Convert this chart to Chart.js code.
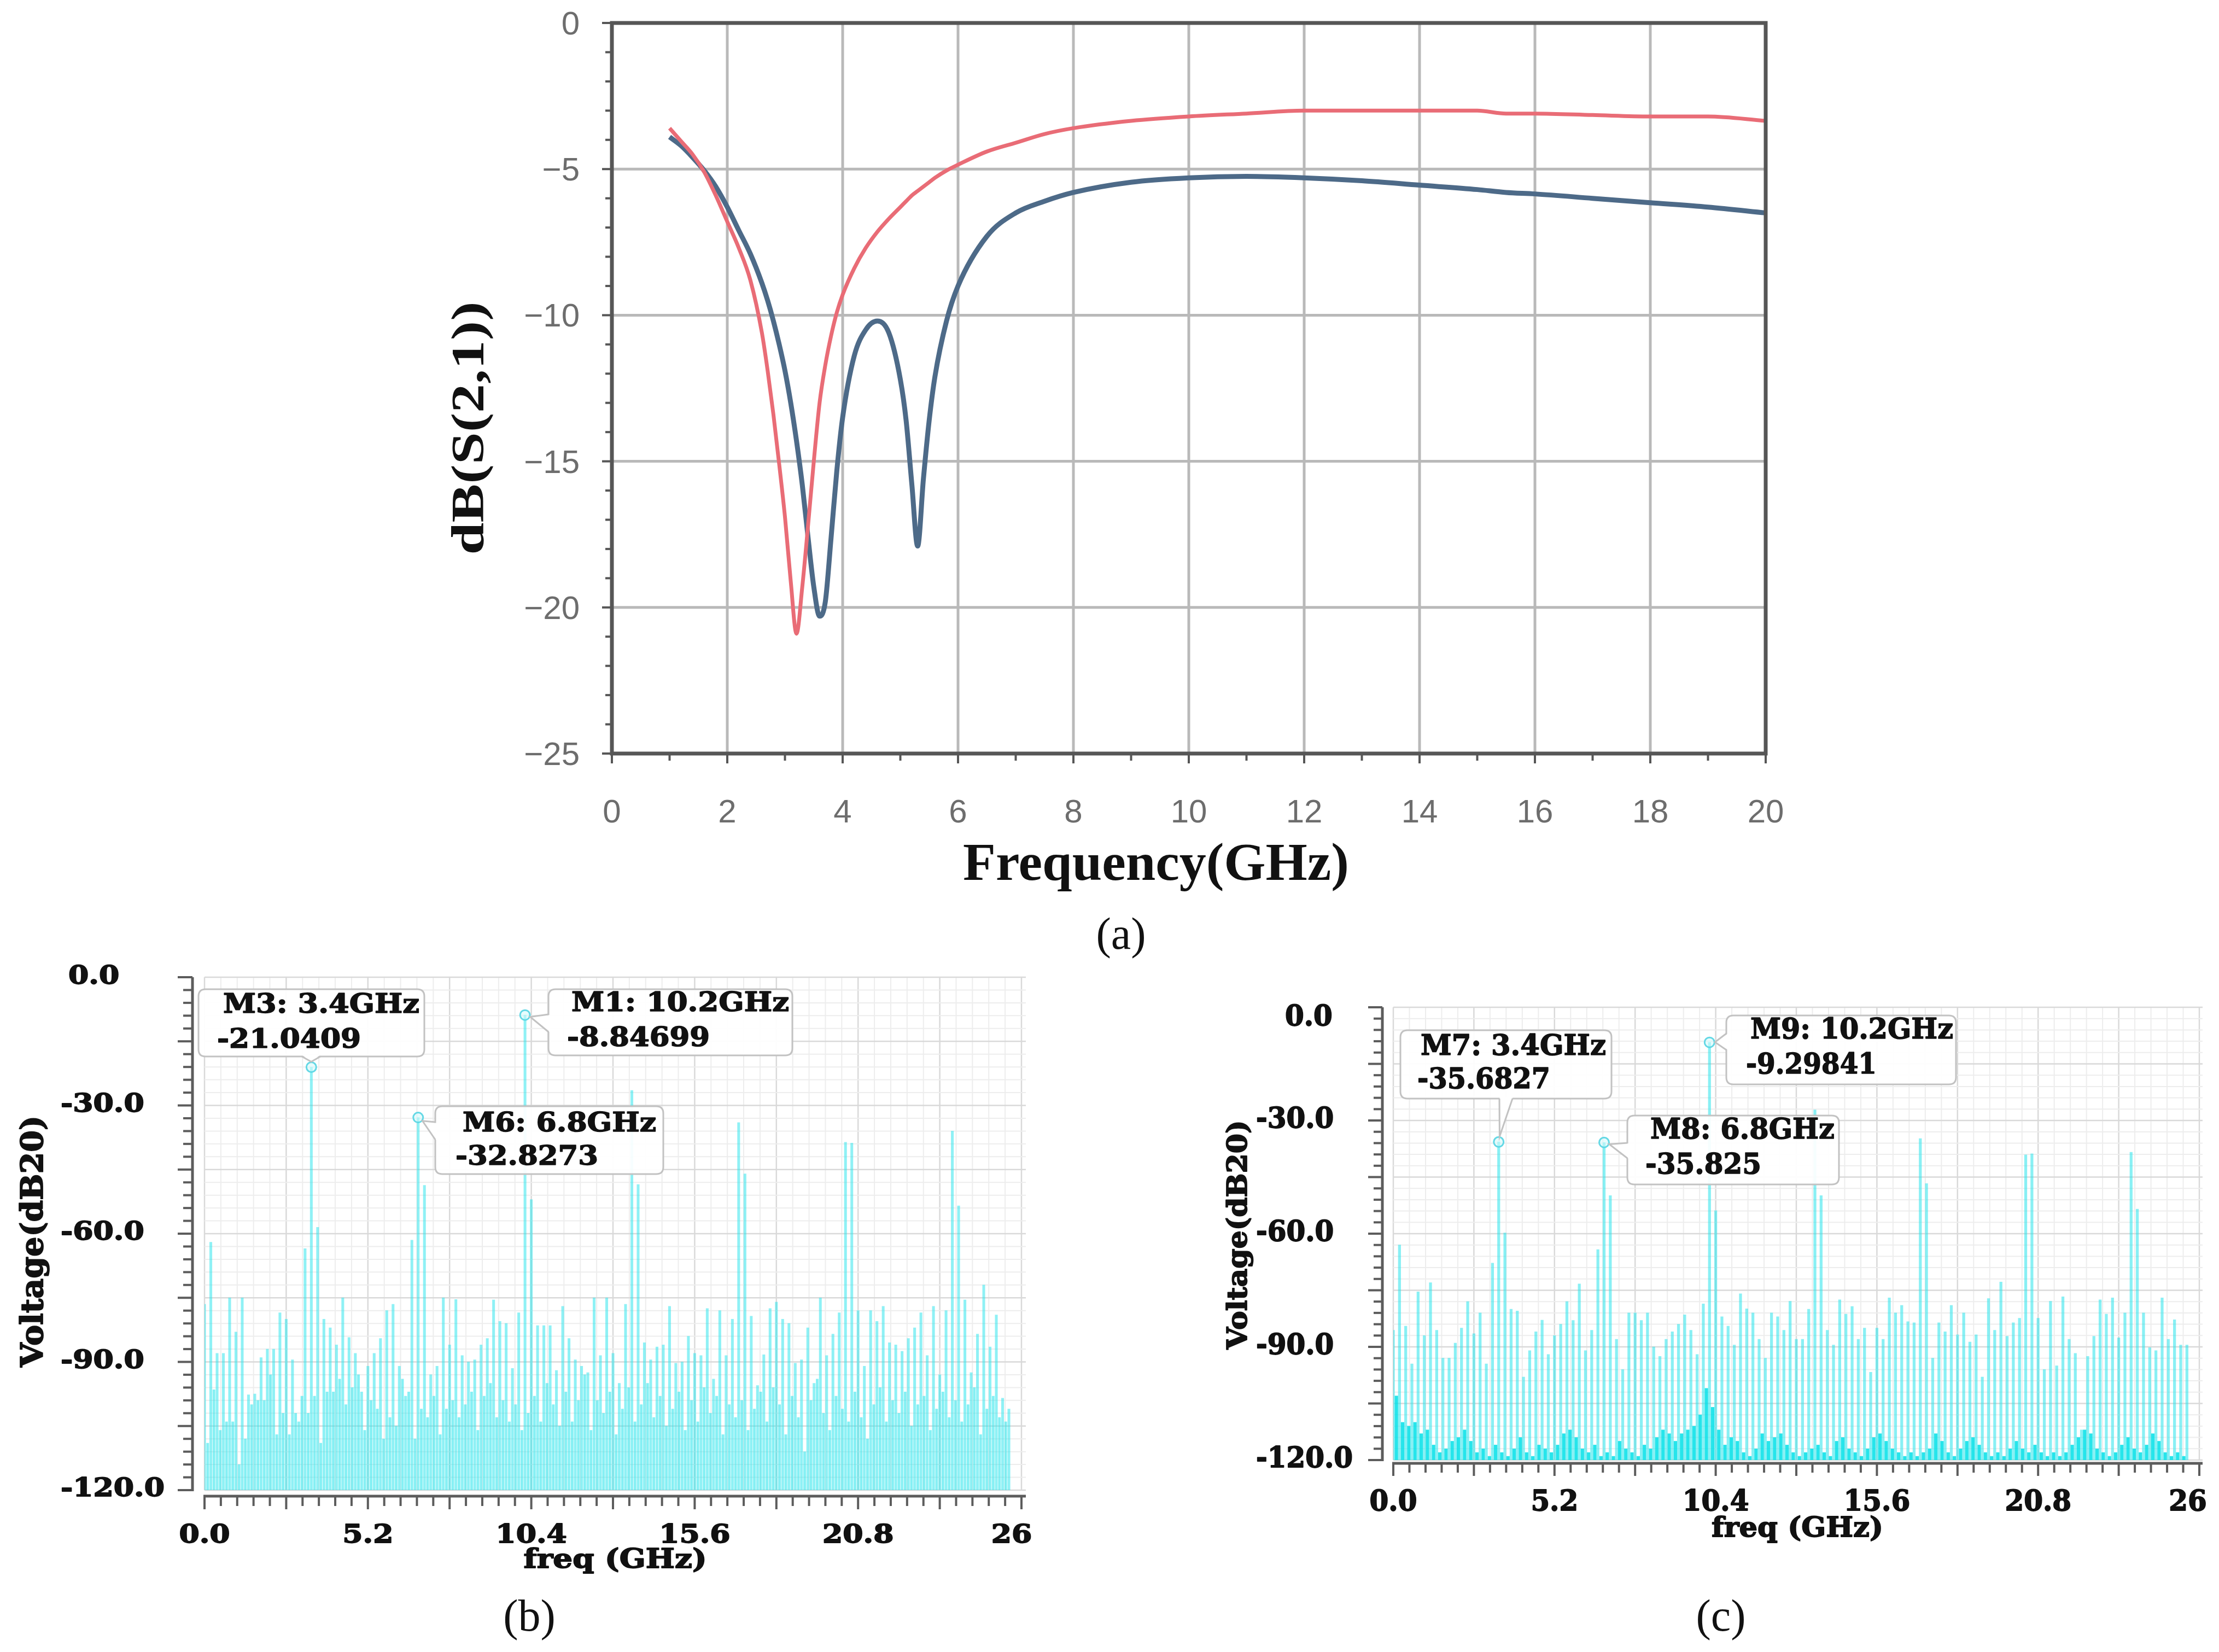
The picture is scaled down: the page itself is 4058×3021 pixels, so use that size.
<!DOCTYPE html>
<html>
<head>
<meta charset="utf-8">
<title>S21 response and output spectra</title>
<script src="https://cdn.jsdelivr.net/npm/chart.js@4.4.1/dist/chart.umd.min.js"></script>
<style>
html,body{margin:0;padding:0;background:#ffffff;}
body{position:relative;width:4058px;height:3021px;overflow:hidden;}
canvas{position:absolute;display:block;}
.pl{position:absolute;font-family:"Liberation Serif","Times New Roman",serif;font-size:82px;line-height:1;color:#111;transform:translate(-50%,-50%);white-space:nowrap;}
</style>
</head>
<body>
<canvas id="ca" width="2700" height="1760" style="left:700px;top:0px"></canvas>
<canvas id="cb" width="2000" height="1321" style="left:0px;top:1700px"></canvas>
<canvas id="cc" width="1908" height="1321" style="left:2150px;top:1700px"></canvas>
<div class="pl" style="left:2050px;top:1708px">(a)</div>
<div class="pl" style="left:968px;top:2955px">(b)</div>
<div class="pl" style="left:3147px;top:2955px">(c)</div>
<script>
// ===================== DATA =====================
// (a) dB(S(2,1)) versus frequency (GHz)
const freqA = [1.0,1.2,1.4,1.6,1.8,2.0,2.2,2.4,2.6,2.7,2.8,2.9,3.0,3.1,3.2,3.3,3.4,3.5,3.6,3.7,3.8,3.9,4.0,4.2,4.4,4.6,4.8,5.0,5.1,5.2,5.3,5.4,5.5,5.6,5.8,6.0,6.5,7.0,7.5,8.0,9.0,10,11,12,13,14,15,15.5,16,17,18,19,20];
const s21Red = [-3.6,-4.05,-4.5,-5.1,-5.9,-6.8,-7.7,-8.8,-10.6,-11.9,-13.4,-15.1,-16.9,-19.1,-20.9,-19.3,-17.2,-15.0,-13.0,-11.7,-10.7,-9.9,-9.3,-8.4,-7.7,-7.15,-6.7,-6.3,-6.1,-5.9,-5.75,-5.6,-5.45,-5.3,-5.05,-4.85,-4.4,-4.1,-3.8,-3.6,-3.35,-3.2,-3.1,-3.0,-3.0,-3.0,-3.0,-3.1,-3.1,-3.15,-3.2,-3.2,-3.35];
const s21Blue = [-3.9,-4.2,-4.6,-5.05,-5.6,-6.3,-7.1,-7.9,-8.9,-9.5,-10.2,-11.0,-11.9,-13.0,-14.3,-15.8,-17.6,-19.3,-20.3,-19.8,-17.6,-15.3,-13.5,-11.4,-10.5,-10.2,-10.6,-12.2,-13.6,-15.8,-17.9,-15.6,-13.6,-12.1,-10.2,-9.0,-7.3,-6.5,-6.1,-5.8,-5.45,-5.3,-5.25,-5.3,-5.4,-5.55,-5.7,-5.8,-5.85,-6.0,-6.15,-6.3,-6.5];
const xTicksA = [0,2,4,6,8,10,12,14,16,18,20];
const yTicksA = [0,-5,-10,-15,-20,-25];

// (b),(c) spectrum lines: frequencies (GHz)
const freqMain = [0,0.2,0.4,0.6,0.8,1,1.2,1.4,1.6,1.8,2,2.2,2.4,2.6,2.8,3,3.2,3.4,3.6,3.8,4,4.2,4.4,4.6,4.8,5,5.2,5.4,5.6,5.8,6,6.2,6.4,6.6,6.8,7,7.2,7.4,7.6,7.8,8,8.2,8.4,8.6,8.8,9,9.2,9.4,9.6,9.8,10,10.2,10.4,10.6,10.8,11,11.2,11.4,11.6,11.8,12,12.2,12.4,12.6,12.8,13,13.2,13.4,13.6,13.8,14,14.2,14.4,14.6,14.8,15,15.2,15.4,15.6,15.8,16,16.2,16.4,16.6,16.8,17,17.2,17.4,17.6,17.8,18,18.2,18.4,18.6,18.8,19,19.2,19.4,19.6,19.8,20,20.2,20.4,20.6,20.8,21,21.2,21.4,21.6,21.8,22,22.2,22.4,22.6,22.8,23,23.2,23.4,23.6,23.8,24,24.2,24.4,24.6,24.8,25,25.2,25.4,25.6];
const freqOdd = [0.1,0.3,0.5,0.7,0.9,1.1,1.3,1.5,1.7,1.9,2.1,2.3,2.5,2.7,2.9,3.1,3.3,3.5,3.7,3.9,4.1,4.3,4.5,4.7,4.9,5.1,5.3,5.5,5.7,5.9,6.1,6.3,6.5,6.7,6.9,7.1,7.3,7.5,7.7,7.9,8.1,8.3,8.5,8.7,8.9,9.1,9.3,9.5,9.7,9.9,10.1,10.3,10.5,10.7,10.9,11.1,11.3,11.5,11.7,11.9,12.1,12.3,12.5,12.7,12.9,13.1,13.3,13.5,13.7,13.9,14.1,14.3,14.5,14.7,14.9,15.1,15.3,15.5,15.7,15.9,16.1,16.3,16.5,16.7,16.9,17.1,17.3,17.5,17.7,17.9,18.1,18.3,18.5,18.7,18.9,19.1,19.3,19.5,19.7,19.9,20.1,20.3,20.5,20.7,20.9,21.1,21.3,21.5,21.7,21.9,22.1,22.3,22.5,22.7,22.9,23.1,23.3,23.5,23.7,23.9,24.1,24.3,24.5,24.7,24.9,25.1,25.3,25.5];

// (b) Voltage (dB20)
const voltB = [-76.5,-62,-88,-88,-75,-83,-75,-97.7,-97.5,-89,-87,-87,-78.5,-80,-89.5,-104,-63.5,-21.04,-58.5,-80,-82,-86,-75,-84.3,-88,-97,-91,-88,-84.5,-78,-76.5,-91,-98,-61.5,-32.83,-48.7,-93,-91,-75,-86,-75.4,-88.5,-90,-89.5,-86,-84.5,-75.5,-80.5,-81,-91.5,-78.5,-8.85,-52,-81.5,-81.5,-81.5,-92,-77,-84.5,-89.5,-91,-92.5,-75,-88.5,-75,-88,-95,-76.5,-26.5,-48.5,-85.5,-89.5,-86.5,-86,-77,-90.3,-90,-84,-88,-88.5,-77.5,-94,-78,-88.5,-80,-34,-46,-79.3,-95.5,-88.3,-77.5,-76,-80,-81,-90.3,-89.5,-82,-95,-75,-88.5,-83.5,-78.5,-38.6,-38.8,-78,-91,-78,-80.5,-77,-85.5,-86,-87.5,-84.5,-82,-78.5,-88.5,-77,-93,-78,-36,-53.5,-75.5,-92.5,-83.5,-72,-86.5,-79,-98.5,-101];
const voltBLow = [-109,-96.5,-106,-104,-104,-114,-108,-100,-99,-99,-93,-107,-102,-107,-102,-98,-102,-98,-109,-97,-97,-94,-100,-96,-93,-106,-99,-101,-108,-103,-105,-94,-97,-108,-101,-103,-98,-107,-101,-99,-103,-100,-97,-106,-98,-95,-103,-99,-104,-100,-106,-102,-98,-104,-95,-100,-105,-97,-104,-99,-93,-106,-99,-102,-97,-107,-101,-96,-104,-100,-95,-103,-98,-105,-101,-97,-106,-99,-104,-96,-102,-98,-107,-100,-103,-99,-106,-101,-97,-104,-96,-100,-107,-98,-103,-111,-99,-94,-102,-106,-98,-101,-104,-97,-103,-108,-100,-96,-104,-99,-102,-97,-105,-100,-98,-106,-101,-97,-103,-99,-104,-100,-96,-107,-101,-98,-103,-104];

// (c) Voltage (dB20)
const voltC = [-85.6,-63,-84.5,-94.5,-75.4,-87,-73,-85.6,-93,-93,-89,-85,-78,-86.5,-81,-94.5,-67.8,-35.68,-59.8,-80,-80.5,-98,-91,-86,-82.9,-92,-87,-84,-78,-83,-73.3,-91,-85.6,-64.2,-35.83,-49.9,-88,-96,-81,-81,-83,-81,-90,-92.5,-88,-86,-84,-81.5,-85.6,-92,-78.6,-9.3,-53.9,-82,-84.5,-89.5,-75.9,-79.9,-81,-88,-93,-81,-82,-85.6,-77.9,-88,-88,-80,-27.2,-49.9,-85.6,-89.5,-77.5,-81.3,-79.3,-88,-85,-96.7,-85,-88,-77,-81,-79,-83.3,-83.6,-34.8,-46.7,-93,-83.6,-86,-79,-86.8,-81,-88.7,-86.8,-98,-77.2,-85.6,-72.8,-87.2,-83.6,-82.4,-39.1,-38.8,-82.4,-96,-77.9,-95,-76.7,-88,-91.7,-112,-92.5,-87.2,-77.5,-81.3,-77,-87.6,-81,-38.4,-53.5,-81,-90.2,-91,-77,-88,-82.8,-89.5,-89.5];
const voltCLow = [-103,-110,-111,-110,-113,-112,-116,-118,-117,-115,-114,-112,-115,-118,-117,-119,-116,-118,-119,-117,-114,-118,-119,-116,-117,-118,-116,-113,-112,-114,-117,-118,-116,-119,-118,-119,-115,-117,-118,-119,-116,-117,-114,-112,-113,-115,-113,-112,-111,-108,-101,-106,-112,-116,-114,-115,-118,-119,-117,-113,-115,-114,-113,-116,-118,-119,-118,-117,-116,-118,-119,-115,-114,-117,-118,-119,-117,-114,-113,-115,-117,-118,-119,-118,-119,-118,-117,-113,-115,-118,-119,-117,-115,-114,-116,-118,-119,-118,-119,-117,-115,-117,-118,-116,-118,-119,-118,-119,-118,-116,-114,-112,-113,-117,-118,-119,-118,-116,-114,-117,-118,-116,-113,-115,-118,-119,-118,-119];

const xTickValsBC = [0,5.2,10.4,15.6,20.8,26];
const xTickLabelsBC = ['0.0','5.2','10.4','15.6','20.8','26'];
const yTickValsBC = [0,-30,-60,-90,-120];
const yTickLabelsBC = ['0.0','-30.0','-60.0','-90.0','-120.0'];

const markerNamesB = ['M3','M6','M1'];
const markerFreqB = [3.4,6.8,10.2];
const markerValsB = [-21.0409,-32.8273,-8.84699];
const markerNamesC = ['M7','M8','M9'];
const markerFreqC = [3.4,6.8,10.2];
const markerValsC = [-35.6827,-35.825,-9.29841];

// ===================== HELPERS =====================
const SERIF_B = '"DejaVu Serif", "Liberation Serif", serif';
const SERIF_A = '"Liberation Serif", "Times New Roman", serif';
const SANS_A = '"Liberation Sans", Arial, sans-serif';

function pts(xs, ys) {
  const n = Math.min(xs.length, ys.length), out = [];
  for (let i = 0; i < n; i++) out.push({x: xs[i], y: ys[i]});
  return out;
}
function bars(xs, ys, base) {
  const n = Math.min(xs.length, ys.length), out = [];
  for (let i = 0; i < n; i++) out.push({x: xs[i], y: [base, ys[i]]});
  return out;
}
function line(ctx, x1, y1, x2, y2) {
  ctx.beginPath(); ctx.moveTo(x1, y1); ctx.lineTo(x2, y2); ctx.stroke();
}
function T(ctx, s, x, y, font, o) {
  o = o || {};
  ctx.save();
  ctx.font = font;
  ctx.fillStyle = o.color || '#111';
  ctx.textBaseline = 'alphabetic';
  ctx.textAlign = 'left';
  const w = ctx.measureText(s).width || 1;
  const k = o.width ? o.width / w : (o.stretch || 1);
  ctx.translate(x, y);
  if (o.rot) ctx.rotate(o.rot);
  ctx.scale(k, 1);
  let dx = 0;
  if (o.align === 'center') dx = -w / 2;
  else if (o.align === 'right') dx = -w;
  ctx.fillText(s, dx, 0);
  if (o.heavy) {
    ctx.strokeStyle = o.color || '#111';
    ctx.lineJoin = 'round';
    ctx.lineWidth = o.heavy;
    ctx.strokeText(s, dx, 0);
  }
  ctx.restore();
}
function rrect(ctx, x, y, w, h, r) {
  ctx.beginPath();
  ctx.moveTo(x + r, y);
  ctx.lineTo(x + w - r, y); ctx.quadraticCurveTo(x + w, y, x + w, y + r);
  ctx.lineTo(x + w, y + h - r); ctx.quadraticCurveTo(x + w, y + h, x + w - r, y + h);
  ctx.lineTo(x + r, y + h); ctx.quadraticCurveTo(x, y + h, x, y + h - r);
  ctx.lineTo(x, y + r); ctx.quadraticCurveTo(x, y, x + r, y);
  ctx.closePath();
}
function callout(ctx, b, O, apex, r, l1, l2, font) {
  const X = b.x - O.x, Y = b.y - O.y;
  ctx.save();
  ctx.fillStyle = 'rgba(255,255,255,0.93)';
  ctx.strokeStyle = '#c2c2c2'; ctx.lineWidth = 3;
  rrect(ctx, X, Y, b.w, b.h, 13); ctx.fill(); ctx.stroke();
  const p1 = [b.t1[0] - O.x, b.t1[1] - O.y], p2 = [b.t2[0] - O.x, b.t2[1] - O.y];
  const mx = (p1[0] + p2[0]) / 2, my = (p1[1] + p2[1]) / 2;
  const dx = mx - apex[0], dy = my - apex[1], d = Math.hypot(dx, dy) || 1;
  const ax = apex[0] + dx / d * r, ay = apex[1] + dy / d * r;
  const ix = dx / d * 3, iy = dy / d * 3;
  ctx.beginPath(); ctx.moveTo(p1[0] + ix, p1[1] + iy); ctx.lineTo(ax, ay); ctx.lineTo(p2[0] + ix, p2[1] + iy); ctx.closePath();
  ctx.fillStyle = '#ffffff'; ctx.fill();
  ctx.beginPath(); ctx.moveTo(p1[0], p1[1]); ctx.lineTo(ax, ay); ctx.lineTo(p2[0], p2[1]); ctx.stroke();
  T(ctx, l1, b.l1x - O.x, b.l1b - O.y, font, {width: b.l1w, color: '#111', heavy: 1.6});
  T(ctx, l2, b.l2x - O.x, b.l2b - O.y, font, {width: b.l2w, color: '#111', heavy: 1.6});
  ctx.restore();
}

const baseOpts = {
  responsive: false, devicePixelRatio: 1, animation: false, events: [],
  plugins: {legend: {display: false}, tooltip: {enabled: false}}
};

// ===================== PANEL (a) =====================
const OA = {x: 700, y: 0};
new Chart(document.getElementById('ca'), {
  type: 'line',
  data: {datasets: [
    {data: pts(freqA, s21Blue), borderColor: '#4d6a88', borderWidth: 9, pointRadius: 0,
     cubicInterpolationMode: 'monotone', fill: false, order: 2},
    {data: pts(freqA, s21Red), borderColor: '#e96c76', borderWidth: 7, pointRadius: 0,
     cubicInterpolationMode: 'monotone', fill: false, order: 1}
  ]},
  options: Object.assign({}, baseOpts, {
    layout: {padding: {left: 419, right: 171, top: 42, bottom: 382}},
    scales: {
      x: {type: 'linear', min: 0, max: 20, display: false},
      y: {type: 'linear', min: -25, max: 0, display: false}
    }
  }),
  plugins: [{
    id: 'decoA',
    beforeDatasetsDraw(chart) {
      const ctx = chart.ctx, ca = chart.chartArea, xs = chart.scales.x, ys = chart.scales.y;
      ctx.save();
      ctx.strokeStyle = '#b9b9b9'; ctx.lineWidth = 5;
      xTicksA.forEach(v => { if (v > xs.min && v < xs.max) { const p = xs.getPixelForValue(v); line(ctx, p, ca.top, p, ca.bottom); } });
      yTicksA.forEach(v => { if (v < ys.max && v > ys.min) { const p = ys.getPixelForValue(v); line(ctx, ca.left, p, ca.right, p); } });
      ctx.restore();
    },
    afterDatasetsDraw(chart) {
      const ctx = chart.ctx, ca = chart.chartArea, xs = chart.scales.x, ys = chart.scales.y;
      ctx.save();
      ctx.strokeStyle = '#565656'; ctx.lineWidth = 4;
      for (let v = ys.max; v >= ys.min; v -= 1) {
        const p = ys.getPixelForValue(v);
        line(ctx, ca.left - (v % 5 === 0 ? 18 : 12), p, ca.left, p);
      }
      for (let v = xs.min; v <= xs.max; v += 1) {
        const p = xs.getPixelForValue(v);
        line(ctx, p, ca.bottom, p, ca.bottom + (v % 2 === 0 ? 18 : 13));
      }
      ctx.lineWidth = 7;
      ctx.strokeRect(ca.left, ca.top, ca.right - ca.left, ca.bottom - ca.top);
      ctx.restore();
      const f = '60px ' + SANS_A;
      yTicksA.forEach(v => {
        const s = v === 0 ? '0' : '\u2212' + Math.abs(v);
        T(ctx, s, 1060 - OA.x, ys.getPixelForValue(v) + 21, f, {align: 'right', color: '#6d6d6d'});
      });
      xTicksA.forEach(v => {
        T(ctx, String(v), xs.getPixelForValue(v), 1483 - OA.y + 21, f, {align: 'center', color: '#6d6d6d'});
      });
      T(ctx, 'dB(S(2,1))', 864 - OA.x + 20, 783 - OA.y, 'bold 84px ' + SERIF_A,
        {rot: -Math.PI / 2, align: 'center', width: 463, color: '#111'});
      T(ctx, 'Frequency(GHz)', 2114 - OA.x, 1609 - OA.y, 'bold 98px ' + SERIF_A,
        {align: 'center', width: 706, color: '#111'});
    }
  }]
});

// ===================== PANELS (b), (c) =====================
function spectrum(id, O, S, mainV, lowV, names, freqs, vals) {
  new Chart(document.getElementById(id), {
    type: 'bar',
    data: {datasets: [
      {type: 'scatter', data: pts(freqs, vals), pointRadius: 9, pointBorderWidth: 3,
       pointBorderColor: 'rgba(92,214,228,0.95)', pointBackgroundColor: 'rgba(212,250,252,0.55)', order: 0},
      {data: bars(freqMain, mainV, -120), backgroundColor: S.mainColor,
       barThickness: S.bt, grouped: false, borderWidth: 0, order: 2},
      {data: bars(freqOdd, lowV, -120), backgroundColor: S.lowColor,
       barThickness: S.bt2, grouped: false, borderWidth: 0, order: 3}
    ]},
    options: Object.assign({}, baseOpts, {
      layout: {padding: S.pad},
      scales: {
        x: {type: 'linear', min: 0, max: 26, offset: false, display: false},
        y: {type: 'linear', min: -120, max: 0, display: false}
      }
    }),
    plugins: [{
      id: 'deco' + id,
      beforeDatasetsDraw(chart) {
        const ctx = chart.ctx, ca = chart.chartArea, xs = chart.scales.x, ys = chart.scales.y;
        ctx.save();
        for (let i = 0; i <= 50; i++) {
          const p = xs.getPixelForValue(i * 0.52);
          ctx.strokeStyle = i % 5 === 0 ? '#d9d9d9' : '#ededed'; ctx.lineWidth = i % 5 === 0 ? 2.5 : 2;
          line(ctx, p, ca.top, p, ca.bottom);
        }
        for (let j = 0; j <= 40; j++) {
          const p = ys.getPixelForValue(-3 * j);
          ctx.strokeStyle = j % 5 === 0 ? '#d9d9d9' : '#ededed'; ctx.lineWidth = j % 5 === 0 ? 2.5 : 2;
          line(ctx, ca.left, p, ca.right + S.gridExt, p);
        }
        ctx.restore();
      },
      afterDatasetsDraw(chart) {
        const ctx = chart.ctx, ca = chart.chartArea, xs = chart.scales.x, ys = chart.scales.y;
        const ax = ca.left - S.yAxisGap, ay = ca.bottom + S.xAxisGap;
        ctx.save();
        ctx.strokeStyle = '#5c5c5c'; ctx.lineWidth = 5;
        line(ctx, ax, ca.top, ax, ca.bottom + 2);
        line(ctx, ca.left - 2, ay, ca.right + S.gridExt, ay);
        ctx.lineWidth = 4;
        for (let j = 0; j <= 40; j++) {
          const p = ys.getPixelForValue(-3 * j);
          line(ctx, ax - (j % 5 === 0 ? S.yTickL : S.yTickS), p, ax, p);
        }
        for (let i = 0; i <= 50; i++) {
          const p = xs.getPixelForValue(i * 0.52);
          line(ctx, p, ay, p, ay + (i % 5 === 0 ? S.xTickL : S.xTickS));
        }
        ctx.restore();
        const lf = 'bold ' + S.lf + 'px ' + SERIF_B;
        const cap = 0.3645 * S.lf;
        yTickValsBC.forEach((v, k) => {
          const cy = ys.getPixelForValue(v) + (v === 0 ? S.y0dy : S.ydy);
          const x = (v === 0 ? S.y0x : S.ylx) - O.x;
          T(ctx, yTickLabelsBC[k], x, cy + cap, lf, {stretch: S.st, heavy: 1.8});
        });
        xTickValsBC.forEach((v, k) => {
          const cx = xs.getPixelForValue(v) + (v === xs.max ? S.lastDx : 0);
          T(ctx, xTickLabelsBC[k], cx, S.labY - O.y + cap, lf, {align: 'center', stretch: S.st, heavy: 1.8});
        });
        T(ctx, 'freq (GHz)', S.tx.cx - O.x, S.tx.cy - O.y + 0.3 * S.tx.f, 'bold ' + S.tx.f + 'px ' + SERIF_B,
          {align: 'center', width: S.tx.w, heavy: 1.8});
        T(ctx, 'Voltage(dB20)', S.ty.cx - O.x + 0.28 * S.ty.f, S.ty.cy - O.y, 'bold ' + S.ty.f + 'px ' + SERIF_B,
          {align: 'center', width: S.ty.w, rot: -Math.PI / 2, heavy: 1.8});
        const mf = 'bold ' + S.mf + 'px ' + SERIF_B;
        const n = Math.min(names.length, freqs.length, vals.length, S.boxes.length);
        for (let i = 0; i < n; i++) {
          const apex = [xs.getPixelForValue(freqs[i]), ys.getPixelForValue(vals[i])];
          callout(ctx, S.boxes[i], O, apex, 10, names[i] + ': ' + freqs[i] + 'GHz', String(vals[i]), mf);
        }
      }
    }]
  });
}

spectrum('cb', {x: 0, y: 1700}, {
  pad: {left: 374, right: 132, top: 87, bottom: 296},
  bt: 4.4, bt2: 4.2, mainColor: 'rgba(40,228,235,0.52)', lowColor: 'rgba(40,228,235,0.56)',
  gridExt: 8, yAxisGap: 22, xAxisGap: 11, yTickL: 27, yTickS: 17, xTickL: 24, xTickS: 18,
  lf: 47, st: 1.14, ylx: 111, y0x: 125, ydy: -6, y0dy: -5, labY: 2804, lastDx: -18,
  tx: {cx: 1125, cy: 2853, f: 48, w: 335},
  ty: {cx: 62, cy: 2270, f: 56, w: 460},
  mf: 48,
  boxes: [
    {x: 363, y: 1809, w: 413, h: 123, l1x: 408, l1b: 1852, l1w: 359, l2x: 397, l2b: 1916, l2w: 263, t1: [552, 1932], t2: [586, 1932]},
    {x: 796, y: 2023, w: 417, h: 124, l1x: 846, l1b: 2069, l1w: 354, l2x: 833, l2b: 2130, l2w: 261, t1: [796, 2052], t2: [796, 2084]},
    {x: 1003, y: 1809, w: 446, h: 121, l1x: 1045, l1b: 1849, l1w: 398, l2x: 1037, l2b: 1913, l2w: 261, t1: [1003, 1855], t2: [1003, 1887]}
  ]
}, voltB, voltBLow, markerNamesB, markerFreqB, markerValsB);

spectrum('cc', {x: 2150, y: 1700}, {
  pad: {left: 398, right: 36, top: 142, bottom: 351},
  bt: 4.6, bt2: 5.5, mainColor: 'rgba(40,228,235,0.55)', lowColor: 'rgba(0,224,232,0.85)',
  gridExt: 6, yAxisGap: 20, xAxisGap: 6, yTickL: 26, yTickS: 16, xTickL: 23, xTickS: 17,
  lf: 52, st: 0.96, ylx: 2297, y0x: 2350, ydy: -6, y0dy: 14, labY: 2743, lastDx: -21,
  tx: {cx: 3287, cy: 2795, f: 51, w: 314},
  ty: {cx: 2266, cy: 2258, f: 51, w: 419},
  mf: 53,
  boxes: [
    {x: 2561, y: 1884, w: 386, h: 125, l1x: 2598, l1b: 1929, l1w: 339, l2x: 2592, l2b: 1990, l2w: 243, t1: [2742, 2009], t2: [2766, 2009]},
    {x: 2976, y: 2040, w: 387, h: 126, l1x: 3018, l1b: 2082, l1w: 337, l2x: 3009, l2b: 2146, l2w: 212, t1: [2976, 2090], t2: [2976, 2118]},
    {x: 3157, y: 1857, w: 420, h: 126, l1x: 3201, l1b: 1899, l1w: 371, l2x: 3193, l2b: 1963, l2w: 239, t1: [3157, 1890], t2: [3157, 1920]}
  ]
}, voltC, voltCLow, markerNamesC, markerFreqC, markerValsC);
</script>
</body>
</html>
